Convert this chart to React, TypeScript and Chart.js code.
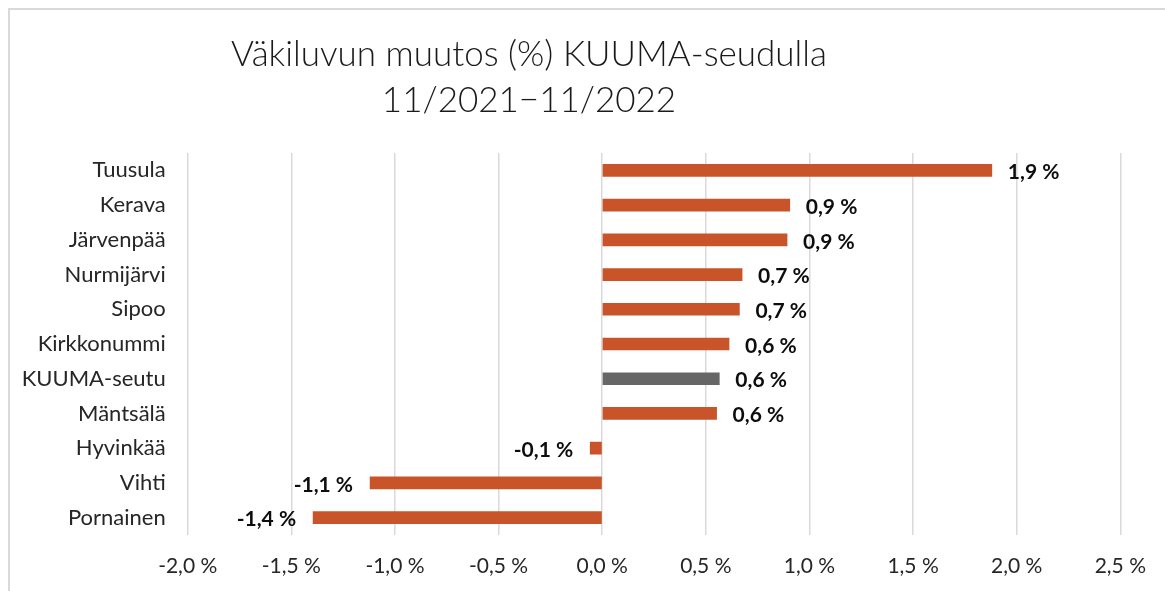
import React, { useEffect, useRef } from "react";
import { Chart, registerables } from "chart.js";

Chart.register(...registerables);

const categories = [
  "Tuusula",
  "Kerava",
  "Järvenpää",
  "Nurmijärvi",
  "Sipoo",
  "Kirkkonummi",
  "KUUMA-seutu",
  "Mäntsälä",
  "Hyvinkää",
  "Vihti",
  "Pornainen",
];
const values = [1.88, 0.905, 0.892, 0.675, 0.662, 0.612, 0.565, 0.552, -0.058, -1.12, -1.395];
const highlight = "KUUMA-seutu";
const titleLines = ["Väkiluvun muutos (%) KUUMA-seudulla", "11/2021\u221211/2022"];
const xMin = -2.0;
const xMax = 2.5;
const xStep = 0.5;

const FONT = "Lato, 'Open Sans', sans-serif";
const ORANGE = "#C9542A";
const GRAY = "#666666";

const fmt = (v: number, d: number) => v.toFixed(d).replace(".", ",") + " %";

export default function App() {
  const ref = useRef<HTMLCanvasElement | null>(null);

  useEffect(() => {
    if (!ref.current) return;

    const framePlugin = {
      id: "frame",
      beforeDraw(chart: any) {
        const ctx = chart.ctx;
        ctx.save();
        ctx.fillStyle = "#ffffff";
        ctx.fillRect(0, 0, chart.width, chart.height);
        ctx.strokeStyle = "#d9d9d9";
        ctx.lineWidth = 2;
        ctx.beginPath();
        ctx.moveTo(9, chart.height + 5);
        ctx.lineTo(9, 9);
        ctx.lineTo(chart.width + 5, 9);
        ctx.stroke();
        ctx.restore();
      },
    };

    const titlePlugin = {
      id: "customTitle",
      afterDraw(chart: any) {
        const ctx = chart.ctx;
        ctx.save();
        ctx.fillStyle = "#1a1a1a";
        ctx.font = `300 35px ${FONT}`;
        ctx.textAlign = "center";
        ctx.textBaseline = "middle";
        ctx.fillText(titleLines[0], 529, 55);
        ctx.fillText(titleLines[1], 529, 101);
        ctx.restore();
      },
    };

    const labelPlugin = {
      id: "valueLabels",
      afterDatasetsDraw(chart: any) {
        const ctx = chart.ctx;
        const meta = chart.getDatasetMeta(0);
        ctx.save();
        ctx.fillStyle = "#0d0d0d";
        ctx.font = `bold 21px ${FONT}`;
        ctx.textBaseline = "middle";
        meta.data.forEach((el: any, i: number) => {
          const v = values[i];
          const txt = fmt(Math.round(v * 10) / 10, 1);
          if (v >= 0) {
            ctx.textAlign = "left";
            ctx.fillText(txt, el.x + 16, el.y + 2);
          } else {
            ctx.textAlign = "right";
            ctx.fillText(txt, el.x - 17, el.y + 2);
          }
        });
        ctx.restore();
      },
    };

    const chart = new Chart(ref.current, {
      type: "bar",
      data: {
        labels: categories,
        datasets: [
          {
            data: values,
            backgroundColor: categories.map((c) => (c === highlight ? GRAY : ORANGE)),
            barThickness: 12,
            borderWidth: 0,
          },
        ],
      },
      options: {
        indexAxis: "y",
        animation: false,
        responsive: true,
        maintainAspectRatio: false,
        layout: { padding: { top: 153, right: 43.5, left: 0, bottom: 0 } },
        plugins: {
          legend: { display: false },
          title: { display: false },
          tooltip: { enabled: false },
        },
        scales: {
          x: {
            min: xMin,
            max: xMax,
            ticks: {
              stepSize: xStep,
              callback: (v: any) => fmt(Number(v), 1),
              color: "#262626",
              font: { family: FONT, size: 21 },
              padding: 19,
              maxRotation: 0,
            },
            grid: { color: "#d9d9d9", lineWidth: 1.5, drawTicks: false },
            border: { display: false },
            afterFit: (scale: any) => {
              scale.height = 56;
            },
          },
          y: {
            ticks: {
              color: "#262626",
              font: { family: FONT, size: 22 },
              padding: 22,
            },
            grid: { display: false, drawTicks: false },
            border: { display: false },
            afterFit: (scale: any) => {
              scale.width = 187.7;
            },
          },
        },
      },
      plugins: [framePlugin, titlePlugin, labelPlugin],
    } as any);

    return () => chart.destroy();
  }, []);

  return (
    <div style={{ position: "fixed", left: 0, top: 0, width: 1165, height: 591 }}>
      <canvas ref={ref} />
    </div>
  );
}
